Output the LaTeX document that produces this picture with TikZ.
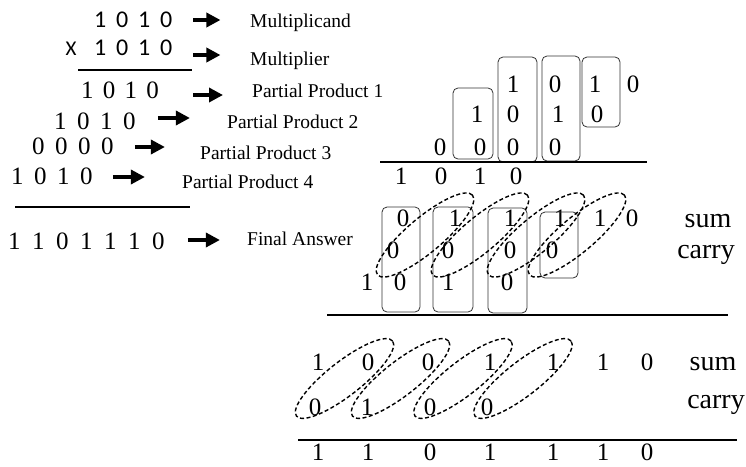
\documentclass[tikz,border=0pt]{standalone}
\usepackage{fontspec}
\setmainfont{Liberation Serif}
\newfontfamily\calib{Carlito}
\usepackage{tikz}
\usetikzlibrary{arrows.meta,shapes.geometric,calc}

\begin{document}
\begin{tikzpicture}[x=1pt,y=-1pt,
    gap/.style={execute at begin node={\spaceskip=#1\relax}},
    bits/.style={inner sep=0pt,anchor=west,font=\fontsize{25}{28}\selectfont,gap=10.5pt},
    sbits/.style={inner sep=0pt,anchor=west,font=\calib\fontsize{24}{28}\selectfont,gap=9.8pt},
    dig/.style={inner sep=0pt,font=\fontsize{25}{28}\selectfont},
    lbl/.style={inner sep=0pt,anchor=base west,font=\fontsize{19.5}{22}\selectfont},
    word/.style={inner sep=0pt,anchor=base,font=\fontsize{28}{30}\selectfont},
    bigarrow/.style={line width=3.4pt,-{Triangle[length=14pt,width=14pt]}},
    grp/.style={draw=black!80,line width=0.8pt,rounded corners=5pt},
    pair/.style={draw,ellipse,inner sep=0pt,line width=1.4pt,dash pattern=on 4pt off 2.5pt},
    rule/.style={line width=2.4pt}]
    \useasboundingbox (0,0) rectangle (746,466);

    % long multiplication, left
    \node[sbits] (mcand) at (94,20) {1 0 1 0};
    \node[inner sep=0pt,font=\calib\fontsize{21}{24}\selectfont] (times) at (71,49) {X};
    \node[sbits] (mplier) at (94,48) {1 0 1 0};
    \node[bits,gap=9.2pt] (pp1) at (81,90) {1 0 1 0};
    \node[bits] (pp2) at (54,121) {1 0 1 0};
    \node[bits] (pp3) at (32,146) {0 0 0 0};
    \node[bits] (pp4) at (11,176) {1 0 1 0};
    \node[bits,gap=11.5pt] (ans) at (8,241) {1 1 0 1 1 1 0};

    \node[lbl] (lmcand) at (250,27) {Multiplicand};
    \node[lbl] (lmplier) at (250,65) {Multiplier};
    \node[lbl] (lpp1) at (252,97) {Partial Product 1};
    \node[lbl] (lpp2) at (227,128) {Partial Product 2};
    \node[lbl] (lpp3) at (200,159) {Partial Product 3};
    \node[lbl] (lpp4) at (182,188) {Partial Product 4};
    \node[lbl] (lans) at (247,245) {Final Answer};

    \draw[bigarrow] ([shift={(21,0)}]mcand.east) -- ++(27,0);
    \draw[bigarrow] ([shift={(21,7)}]mplier.east) -- ++(27,0);
    \draw[bigarrow] ([shift={(34,5)}]pp1.east) -- ++(30,0);
    \draw[bigarrow] ([shift={(22,-3)}]pp2.east) -- ++(32,0);
    \draw[bigarrow] ([shift={(21,1)}]pp3.east) -- ++(30,0);
    \draw[bigarrow] ([shift={(20,1)}]pp4.east) -- ++(32,0);
    \draw[bigarrow] ([shift={(23,-1)}]ans.east) -- ++(32,0);

    \draw[rule] (78,70) -- (192,70);
    \draw[rule] (15,207) -- (190,207);

    % shifted partial products, right
    \foreach \x/\d [count=\i] in {513/1,555/0,595/1,633/0}
        \node[dig] (pa\i) at (\x,84) {\d};
    \foreach \x/\d [count=\i] in {477/1,513/0,558/1,597/0}
        \node[dig] (pb\i) at (\x,114) {\d};
    \foreach \x/\d [count=\i] in {440/0,480/0,513/0,555/0}
        \node[dig] (pc\i) at (\x,147) {\d};
    \foreach \x/\d [count=\i] in {401/1,441/0,480/1,516/0}
        \node[dig] (pd\i) at (\x,176) {\d};
    \foreach \xa/\ya/\xb/\yb in {453/88/493/159,498/57/537/162,542/56/580/161,582/57/620/127}
        \draw[grp] (\xa,\ya) rectangle (\xb,\yb);
    \draw[rule] (380,162) -- (647,162);

    % first carry-save stage
    \foreach \x/\d [count=\i] in {403/0,455/1,510/1,560/1,600/1,632/0}
        \node[dig] (ms\i) at (\x,218) {\d};
    \foreach \x/\d [count=\i] in {393/0,448/0,510/0,552/0}
        \node[dig] (mc\i) at (\x,250) {\d};
    \foreach \x/\d [count=\i] in {367/1,400/0,448/1,507/0}
        \node[dig] (mr\i) at (\x,282) {\d};
    \node[word] (msum) at (708,227) {sum};
    \node[word] (mcarry) at (706,258) {carry};
    \foreach \xa/\ya/\xb/\yb in {382/207/420/312,433/207/473/312,488/208/527/313,540/212/578/278}
        \draw[grp] (\xa,\ya) rectangle (\xb,\yb);
    \foreach \i [evaluate=\i as \j using int(\i+1)] in {1,...,4}
        \node[pair,rotate=40,minimum width=124,minimum height=35] (me\i)
            at ($(mc\i)!.5!(ms\j)+(1,1)$) {};
    \draw[rule] (327,315) -- (728,315);

    % second stage and result
    \foreach \x/\d [count=\i] in {318/1,368/0,428/0,490/1,553/1,603/1,647/0}
        \node[dig] (bs\i) at (\x,362) {\d};
    \foreach \x/\d [count=\i] in {315/0,367/1,430/0,487/0}
        \node[dig] (bc\i) at (\x,407) {\d};
    \node[word] (bsum) at (713,370) {sum};
    \node[word] (bcarry) at (716,408) {carry};
    \foreach \i [evaluate=\i as \j using int(\i+1)] in {1,...,4}
        \node[pair,rotate=38,minimum width=122,minimum height=34] (be\i)
            at ($(bc\i)!.5!(bs\j)+(3,-6)$) {};
    \draw[rule] (298,440) -- (737,440);
    \foreach \x/\d [count=\i] in {318/1,368/1,430/0,490/1,553/1,603/1,647/0}
        \node[dig] (bf\i) at (\x,452) {\d};
\end{tikzpicture}
\end{document}
